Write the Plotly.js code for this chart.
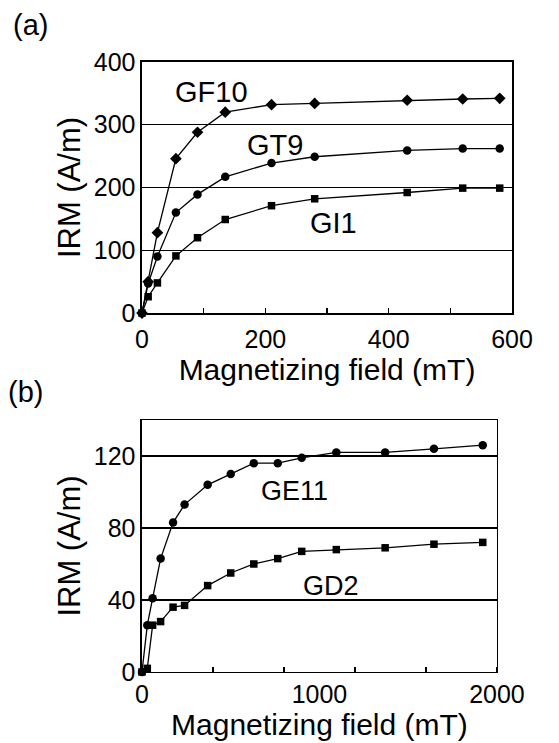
<!DOCTYPE html>
<html>
<head>
<meta charset="utf-8">
<script src="https://cdn.plot.ly/plotly-3.0.1.min.js"></script>
<style>html,body{margin:0;padding:0;background:#fff;}#chart{width:559px;height:743px;}</style>
</head>
<body>
<div id="chart"></div>
<script>
// Panel (a)
const fieldA = [0, 10, 25, 55, 90, 135, 210, 280, 430, 520, 580];
const GF10 = [0, 50, 128, 246, 288, 320, 332, 334, 339, 341, 342];
const GT9  = [0, 47, 90, 160, 189, 217, 239, 249, 259, 262, 262];
const GI1  = [0, 26, 48, 91, 120, 149, 171, 182, 192, 199, 199];
// Panel (b)
const fieldB = [0, 30, 60, 105, 175, 240, 370, 500, 630, 765, 900, 1095, 1370, 1645, 1920];
const GE11 = [0, 26, 41, 63, 83, 93, 104, 110, 116, 116, 119, 122, 122, 124, 126];
const GD2  = [0, 2, 26, 28, 36, 37, 48, 55, 60, 63, 67, 68, 69, 71, 72];

const ticksA = [0, 200, 400, 600];
const ticksB = [0, 1000, 2000];

const FONT = 'Liberation Sans, Arial, Helvetica, sans-serif';

function series(x, y, sym, size, xa, ya) {
  return {x: x, y: y, xaxis: xa, yaxis: ya, type: 'scatter', mode: 'lines+markers',
    line: {color: '#000', width: 1.3},
    marker: {color: '#000', size: size, symbol: sym},
    cliponaxis: false, hoverinfo: 'skip'};
}

const data = [
  series(fieldA, GF10, 'diamond', 9, 'x', 'y'),
  series(fieldA, GT9, 'circle', 8.5, 'x', 'y'),
  series(fieldA, GI1, 'square', 7.5, 'x', 'y'),
  series(fieldB, GE11, 'circle', 8.5, 'x2', 'y2'),
  series(fieldB, GD2, 'square', 7.5, 'x2', 'y2')
];

const axBase = {
  showline: true, mirror: true, linecolor: '#000', linewidth: 1.5,
  zeroline: false, automargin: false, color: '#000',
  tickfont: {family: FONT, size: 25, color: '#000'}
};

const layout = {
  width: 559, height: 743,
  margin: {l: 0, r: 0, t: 0, b: 0},
  paper_bgcolor: '#fff', plot_bgcolor: '#fff',
  showlegend: false,
  font: {family: FONT, color: '#000'},
  xaxis: Object.assign({}, axBase, {
    domain: [0.254, 0.916], anchor: 'y', range: [0, 600],
    tickmode: 'array', tickvals: ticksA,
    ticks: 'inside', ticklen: 5, tickwidth: 1.2, tickcolor: '#000',
    minor: {dtick: 100, tick0: 0, ticks: 'inside', ticklen: 5, tickwidth: 1.2, tickcolor: '#000', showgrid: false},
    showgrid: false, ticklabelstandoff: 3,
    title: {text: 'Magnetizing field (mT)', font: {family: FONT, size: 30, color: '#000'}, standoff: 0}
  }),
  yaxis: Object.assign({}, axBase, {
    domain: [0.5787, 0.9166], anchor: 'x', range: [0, 400],
    tickmode: 'linear', tick0: 0, dtick: 100, ticks: '',
    showgrid: true, gridcolor: '#000', gridwidth: 1.3,
    title: {text: 'IRM (A/m)', font: {family: FONT, size: 31, color: '#000'}, standoff: 4}
  }),
  xaxis2: Object.assign({}, axBase, {
    domain: [0.254, 0.889], anchor: 'y2', range: [0, 2000],
    tickmode: 'array', tickvals: ticksB,
    ticks: '',
    minor: {dtick: 400, tick0: 0, ticks: 'inside', ticklen: 5, tickwidth: 1.2, tickcolor: '#000', showgrid: false},
    showgrid: false, ticklabelstandoff: 0,
    title: {text: 'Magnetizing field (mT)', font: {family: FONT, size: 30, color: '#000'}, standoff: 3}
  }),
  yaxis2: Object.assign({}, axBase, {
    domain: [0.0956, 0.4347], anchor: 'x2', range: [0, 140],
    tickmode: 'linear', tick0: 0, dtick: 40, ticks: '',
    showgrid: true, gridcolor: '#000', gridwidth: 1.3,
    title: {text: 'IRM (A/m)', font: {family: FONT, size: 31, color: '#000'}, standoff: 4}
  }),
  annotations: [
    {text: 'GF10', x: 113, y: 352, xref: 'x', yref: 'y', showarrow: false, font: {family: FONT, size: 29, color: '#000'}},
    {text: 'GT9', x: 216, y: 268, xref: 'x', yref: 'y', showarrow: false, font: {family: FONT, size: 29, color: '#000'}},
    {text: 'GI1', x: 310, y: 143, xref: 'x', yref: 'y', showarrow: false, font: {family: FONT, size: 29, color: '#000'}},
    {text: 'GE11', x: 862, y: 100.5, xref: 'x2', yref: 'y2', showarrow: false, font: {family: FONT, size: 27, color: '#000'}},
    {text: 'GD2', x: 1065, y: 48, xref: 'x2', yref: 'y2', showarrow: false, font: {family: FONT, size: 27, color: '#000'}},
    {text: '(a)', x: 30/559, y: 1 - 25/743, xref: 'paper', yref: 'paper', xanchor: 'center', yanchor: 'middle', showarrow: false, font: {family: FONT, size: 29, color: '#000'}},
    {text: '(b)', x: 25/559, y: 1 - 392/743, xref: 'paper', yref: 'paper', xanchor: 'center', yanchor: 'middle', showarrow: false, font: {family: FONT, size: 29, color: '#000'}}
  ]
};

Plotly.newPlot('chart', data, layout, {displayModeBar: false, staticPlot: true});
</script>
</body>
</html>
